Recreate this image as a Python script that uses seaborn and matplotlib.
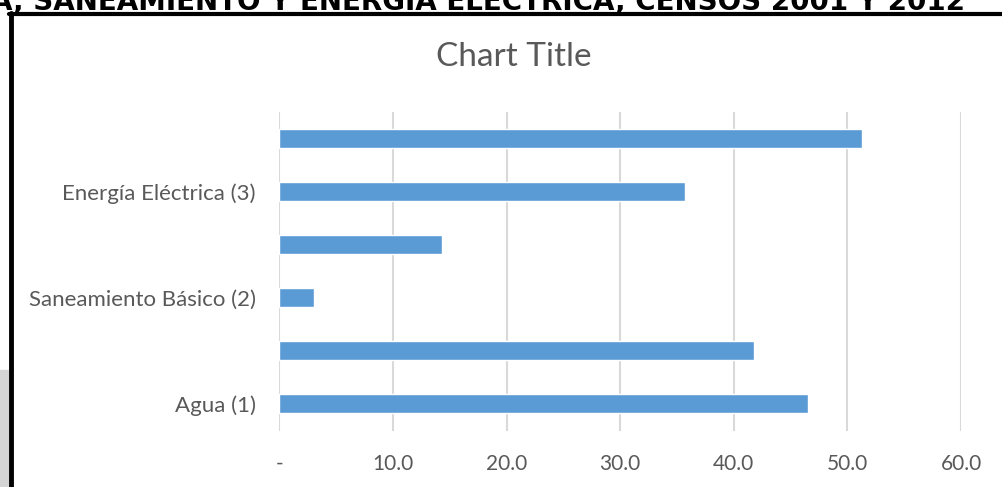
import matplotlib
matplotlib.use("Agg")
import matplotlib.pyplot as plt
from matplotlib.lines import Line2D
from matplotlib.patches import Rectangle
import seaborn as sns
import pandas as pd

# ---- data (top to bottom) ----
row_ids = ["r1", "r2", "r3", "r4", "r5", "r6"]
row_labels = ["", "Energía Eléctrica (3)", "", "Saneamiento Básico (2)", "", "Agua (1)"]
values = [51.3, 35.7, 14.3, 3.0, 41.8, 46.5]
x_ticks = [0, 10, 20, 30, 40, 50, 60]
x_tick_labels = ["-", "10.0", "20.0", "30.0", "40.0", "50.0", "60.0"]
chart_title = "Chart Title"
page_heading = "A, SANEAMIENTO Y ENERGÍA ELÉCTRICA, CENSOS 2001 Y 2012"

sns.set_theme(style="white")
plt.rcParams['font.family'] = ['Lato', 'DejaVu Sans']

W, H = 1003, 487
fig = plt.figure(figsize=(W / 100, H / 100), dpi=100)
fig.patch.set_facecolor("white")

left_px, right_px = 279.5, 961.0
top_px, bot_px = 111.5, 430.5
ax = fig.add_axes([left_px / W, 1 - bot_px / H, (right_px - left_px) / W, (bot_px - top_px) / H])

df = pd.DataFrame({"row": row_ids, "value": values})
sns.barplot(data=df, x="value", y="row", orient="h", color="#5B9BD5",
            saturation=1, width=0.36, ax=ax, zorder=3)

ax.set_xlim(0, 60)
ax.set_xticks(x_ticks)
ax.set_xticklabels(x_tick_labels)
ax.set_yticks(range(len(row_ids)))
ax.set_yticklabels(row_labels)
ax.set_xlabel("")
ax.set_ylabel("")
ax.grid(axis="x", color="#D9D9D9", linewidth=1.5, zorder=0)
ax.grid(axis="y", visible=False)
for s in ax.spines.values():
    s.set_visible(False)
ax.tick_params(axis="x", length=0, pad=17, labelsize=15, labelcolor="#595959")
ax.tick_params(axis="y", length=0, pad=17, labelsize=16, labelcolor="#595959")
ax.set_facecolor("white")

fig.text(514 / W, 1 - 57 / H, chart_title, ha="center", va="center",
         fontsize=24, color="#595959")

# cropped page heading
fig.text(965 / W, 1 - 10 / H, page_heading, ha="right", va="baseline",
         fontsize=20, fontweight="bold", color="black", family=["DejaVu Sans"])

# frame lines
fig.add_artist(Line2D([9 / W, 1], [1 - 14 / H, 1 - 14 / H], color="black",
                      linewidth=3, transform=fig.transFigure))
fig.add_artist(Line2D([11 / W, 11 / W], [0, 1 - 12.5 / H], color="black",
                      linewidth=3.5, transform=fig.transFigure))
fig.add_artist(Rectangle((0, 0), 8 / W, (H - 370) / H, color="#D4D4D4",
                         transform=fig.transFigure, zorder=0))

fig.savefig("out.png", dpi=100)
